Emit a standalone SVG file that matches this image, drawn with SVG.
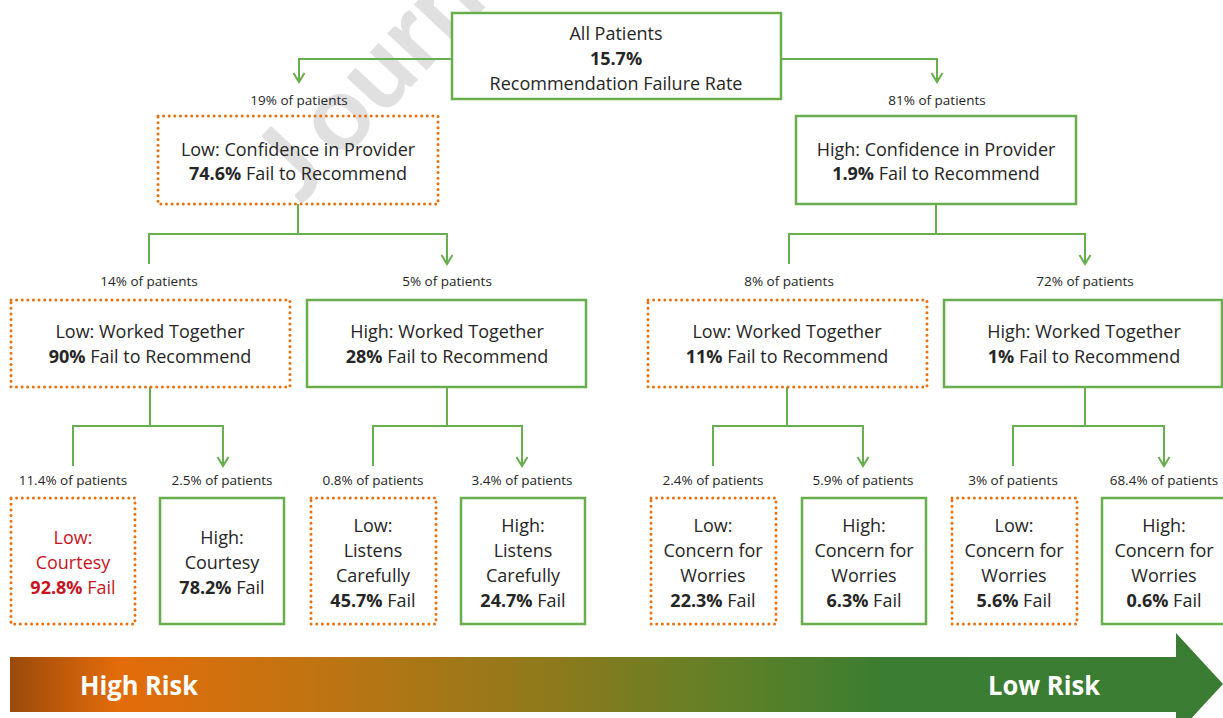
<svg xmlns="http://www.w3.org/2000/svg" width="1223" height="718" viewBox="0 0 1223 718">
<style>
text{font-family:"Open Sans","Liberation Sans",sans-serif;fill:#262626;text-anchor:middle}
.t{font-size:18px}
.l{font-size:13.5px}
.b{font-weight:bold}
.red{fill:#c8141e}
.g{fill:#fff;stroke:#68ae4e;stroke-width:2.5}
.o{fill:none;stroke:#e8700e;stroke-width:3;stroke-dasharray:0.01 5.6;stroke-linecap:round}
.c{fill:none;stroke:#68ae4e;stroke-width:2;marker-end:url(#ah)}
.c2{fill:none;stroke:#68ae4e;stroke-width:2}
.wm{font-family:Lato,"Open Sans",sans-serif;font-size:105px;font-weight:bold;fill:#e0e0e0;text-anchor:start}
.risk{font-size:27px;font-weight:bold;fill:#fff;text-anchor:start}
</style>
<defs>
<marker id="ah" markerUnits="userSpaceOnUse" markerWidth="14" markerHeight="14" viewBox="0 0 14 14" refX="12" refY="7" orient="auto">
<path d="M3,1.5 L12,7 L3,12.5" fill="none" stroke="#68ae4e" stroke-width="2"/>
</marker>
<linearGradient id="rg" gradientUnits="userSpaceOnUse" x1="10" y1="0" x2="1223" y2="0">
<stop offset="0" stop-color="#9a4a0c"/>
<stop offset="0.09" stop-color="#e46c0a"/>
<stop offset="0.25" stop-color="#c07412"/>
<stop offset="0.45" stop-color="#8c7a1c"/>
<stop offset="0.6" stop-color="#5e8028"/>
<stop offset="0.72" stop-color="#3b7d32"/>
<stop offset="1" stop-color="#3a7d32"/>
</linearGradient>
</defs>
<text class="wm" transform="translate(301,205) rotate(-47)">J<tspan dx="15">ourn</tspan></text>
<g id="connectors">
<polyline class="c" points="452,59 299,59 299,82"/>
<polyline class="c" points="781,59 937,59 937,82"/>
<polyline class="c2" points="298,204 298,234"/>
<polyline class="c" points="149,264 149,234 447,234 447,264"/>
<polyline class="c2" points="936,204 936,234"/>
<polyline class="c" points="789,264 789,234 1085,234 1085,264"/>
<polyline class="c2" points="150,387 150,426"/>
<polyline class="c" points="73,466 73,426 223,426 223,466"/>
<polyline class="c2" points="447,387 447,426"/>
<polyline class="c" points="373,466 373,426 522,426 522,466"/>
<polyline class="c2" points="787,387 787,426"/>
<polyline class="c" points="713,466 713,426 863,426 863,466"/>
<polyline class="c2" points="1085,387 1085,426"/>
<polyline class="c" points="1013,466 1013,426 1164,426 1164,466"/>
</g>
<g id="labels">
<text class="l" x="299" y="105">19% of patients</text>
<text class="l" x="937" y="105">81% of patients</text>
<text class="l" x="149" y="286">14% of patients</text>
<text class="l" x="447" y="286">5% of patients</text>
<text class="l" x="789" y="286">8% of patients</text>
<text class="l" x="1085" y="286">72% of patients</text>
<text class="l" x="73" y="485">11.4% of patients</text>
<text class="l" x="222" y="485">2.5% of patients</text>
<text class="l" x="373" y="485">0.8% of patients</text>
<text class="l" x="522" y="485">3.4% of patients</text>
<text class="l" x="713" y="485">2.4% of patients</text>
<text class="l" x="863" y="485">5.9% of patients</text>
<text class="l" x="1013" y="485">3% of patients</text>
<text class="l" x="1164" y="485">68.4% of patients</text>
</g>
<g id="all">
<rect class="g" x="452" y="13" width="329" height="86"/>
<text class="t" x="616" y="39.5">All Patients</text>
<text class="t b" x="616" y="64.5">15.7%</text>
<text class="t" x="616" y="89.5">Recommendation Failure Rate</text>
</g>
<g id="lowConf">
<rect class="o" x="158" y="116" width="280" height="88"/>
<text class="t" x="298" y="155.5">Low: Confidence in Provider</text>
<text class="t" x="298" y="179.5"><tspan class="b">74.6%</tspan> Fail to Recommend</text>
</g>
<g id="highConf">
<rect class="g" x="796" y="116" width="280" height="88"/>
<text class="t" x="936" y="155.5">High: Confidence in Provider</text>
<text class="t" x="936" y="179.5"><tspan class="b">1.9%</tspan> Fail to Recommend</text>
</g>
<g id="lowWT1">
<rect class="o" x="11" y="300" width="279" height="87"/>
<text class="t" x="150" y="337.5">Low: Worked Together</text>
<text class="t" x="150" y="362.5"><tspan class="b">90%</tspan> Fail to Recommend</text>
</g>
<g id="highWT1">
<rect class="g" x="307" y="300" width="279" height="87"/>
<text class="t" x="447" y="337.5">High: Worked Together</text>
<text class="t" x="447" y="362.5"><tspan class="b">28%</tspan> Fail to Recommend</text>
</g>
<g id="lowWT2">
<rect class="o" x="648" y="300" width="279" height="87"/>
<text class="t" x="787" y="337.5">Low: Worked Together</text>
<text class="t" x="787" y="362.5"><tspan class="b">11%</tspan> Fail to Recommend</text>
</g>
<g id="highWT2">
<rect class="g" x="944" y="300" width="278" height="87"/>
<text class="t" x="1084" y="337.5">High: Worked Together</text>
<text class="t" x="1084" y="362.5"><tspan class="b">1%</tspan> Fail to Recommend</text>
</g>
<g id="lowCourtesy">
<rect class="o" x="11" y="498" width="124" height="126"/>
<text class="t red" x="73" y="543.5">Low:</text>
<text class="t red" x="73" y="568.5">Courtesy</text>
<text class="t red" x="73" y="593.5"><tspan class="b red">92.8%</tspan> Fail</text>
</g>
<g id="highCourtesy">
<rect class="g" x="160" y="498" width="124" height="126"/>
<text class="t" x="222" y="543.5">High:</text>
<text class="t" x="222" y="568.5">Courtesy</text>
<text class="t" x="222" y="593.5"><tspan class="b">78.2%</tspan> Fail</text>
</g>
<g id="lowListens">
<rect class="o" x="311" y="498" width="125" height="126"/>
<text class="t" x="373" y="531.5">Low:</text>
<text class="t" x="373" y="556.5">Listens</text>
<text class="t" x="373" y="581.5">Carefully</text>
<text class="t" x="373" y="606.5"><tspan class="b">45.7%</tspan> Fail</text>
</g>
<g id="highListens">
<rect class="g" x="461" y="498" width="124" height="126"/>
<text class="t" x="523" y="531.5">High:</text>
<text class="t" x="523" y="556.5">Listens</text>
<text class="t" x="523" y="581.5">Carefully</text>
<text class="t" x="523" y="606.5"><tspan class="b">24.7%</tspan> Fail</text>
</g>
<g id="lowConcern1">
<rect class="o" x="651" y="498" width="125" height="126"/>
<text class="t" x="713" y="531.5">Low:</text>
<text class="t" x="713" y="556.5">Concern for</text>
<text class="t" x="713" y="581.5">Worries</text>
<text class="t" x="713" y="606.5"><tspan class="b">22.3%</tspan> Fail</text>
</g>
<g id="highConcern1">
<rect class="g" x="802" y="498" width="124" height="126"/>
<text class="t" x="864" y="531.5">High:</text>
<text class="t" x="864" y="556.5">Concern for</text>
<text class="t" x="864" y="581.5">Worries</text>
<text class="t" x="864" y="606.5"><tspan class="b">6.3%</tspan> Fail</text>
</g>
<g id="lowConcern2">
<rect class="o" x="952" y="498" width="125" height="126"/>
<text class="t" x="1014" y="531.5">Low:</text>
<text class="t" x="1014" y="556.5">Concern for</text>
<text class="t" x="1014" y="581.5">Worries</text>
<text class="t" x="1014" y="606.5"><tspan class="b">5.6%</tspan> Fail</text>
</g>
<g id="highConcern2">
<rect class="g" x="1102" y="498" width="124" height="126"/>
<text class="t" x="1164" y="531.5">High:</text>
<text class="t" x="1164" y="556.5">Concern for</text>
<text class="t" x="1164" y="581.5">Worries</text>
<text class="t" x="1164" y="606.5"><tspan class="b">0.6%</tspan> Fail</text>
</g>
<g id="riskArrow">
<polygon points="10,657 1176,657 1176,633 1223,684 1176,735 1176,712 10,712" fill="url(#rg)"/>
<text class="risk" x="80" y="695" textLength="118" lengthAdjust="spacingAndGlyphs">High Risk</text>
<text class="risk" x="988" y="695" textLength="112" lengthAdjust="spacingAndGlyphs">Low Risk</text>
</g>
</svg>
